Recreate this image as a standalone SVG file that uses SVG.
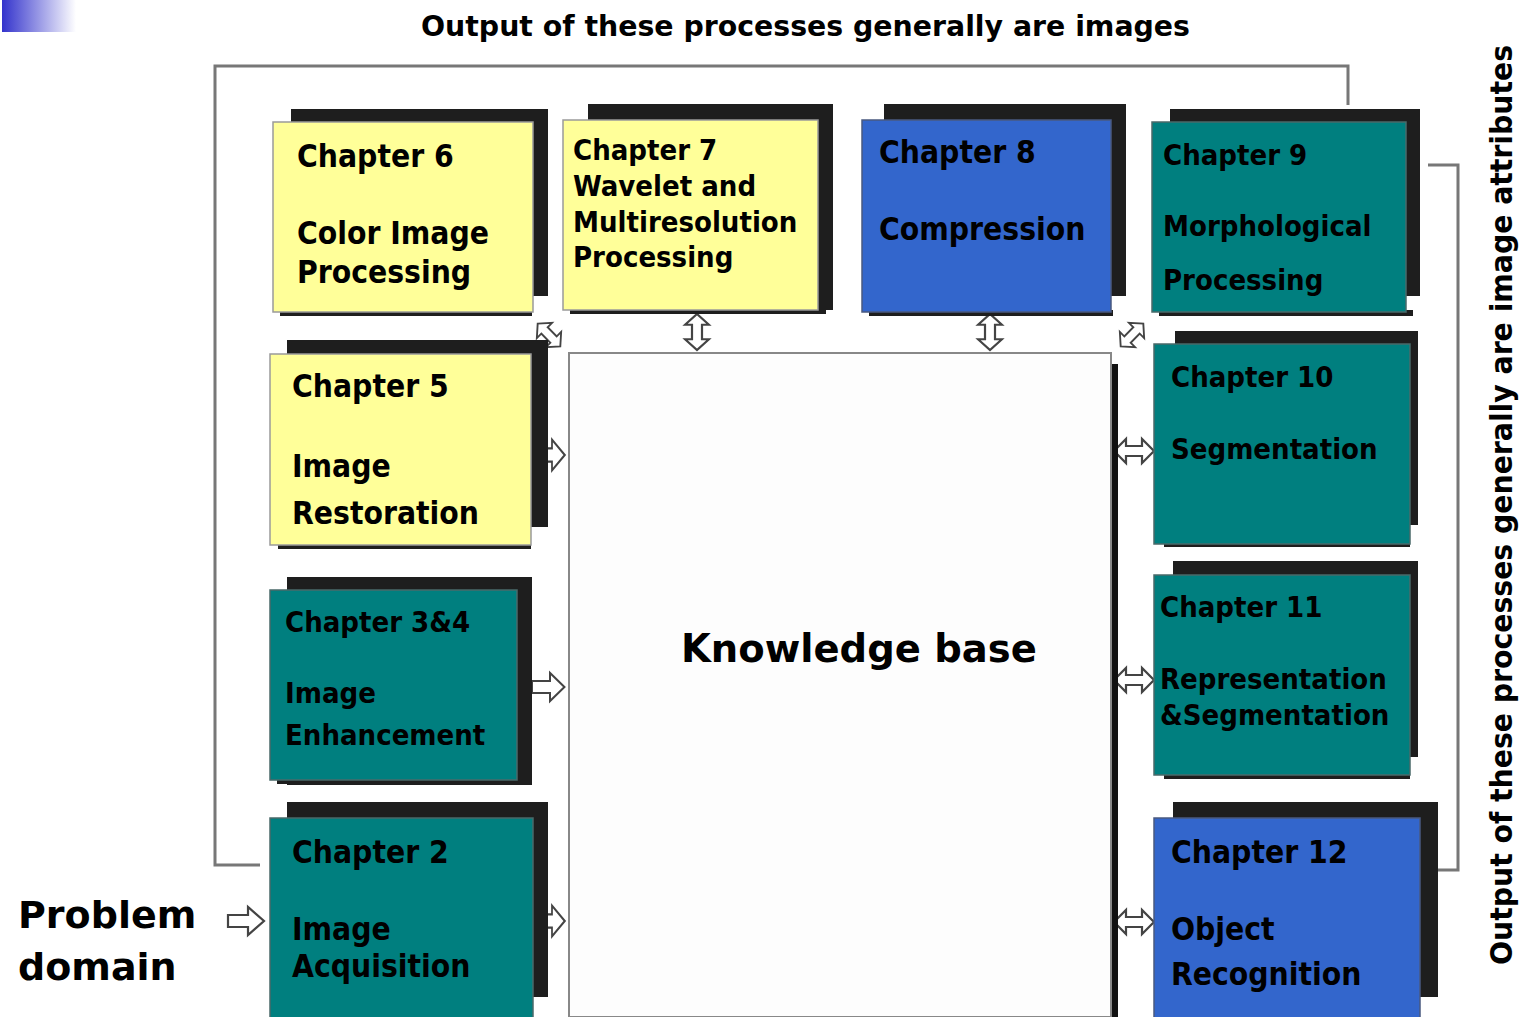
<svg xmlns="http://www.w3.org/2000/svg" width="1526" height="1017" viewBox="0 0 1526 1017">
<defs>
<linearGradient id="g" x1="0" y1="0" x2="1" y2="0">
<stop offset="0" stop-color="#3333cc"/>
<stop offset="1" stop-color="#ffffff"/>
</linearGradient>
<path id="a1" d="M-20,-6 H0 V-14 L16,0 L0,14 V6 H-20 Z"/>
<path id="a2" d="M-20,0 L-8,-12 V-5 H8 V-12 L20,0 L8,12 V5 H-8 V12 Z"/>
</defs>
<style>
.dk{fill:#1e1e1e}
.y{fill:#ffff99;stroke:#9a9a9a;stroke-width:1.5}
.t{fill:#007f7f;stroke:#4a6a6a;stroke-width:1.5}
.b{fill:#3366cc;stroke:#4a5a80;stroke-width:1.5}
.tx{font-family:"DejaVu Sans Condensed","DejaVu Sans",sans-serif;font-stretch:condensed;font-weight:bold;fill:#000}
.big{font-family:"DejaVu Sans",sans-serif;font-weight:bold;fill:#000}
.ln{fill:none;stroke:#777;stroke-width:3}
.ar{fill:#fff;stroke:#444;stroke-width:2.2;stroke-linejoin:miter}
</style>
<rect x="0" y="0" width="1526" height="1017" fill="#fff"/>
<rect x="2" y="0" width="74" height="32" fill="url(#g)"/>
<text class="tx" x="421" y="36" font-size="29" textLength="769" lengthAdjust="spacingAndGlyphs">Output of these processes generally are images</text>
<text class="tx" transform="translate(1512,965) rotate(-90)" font-size="30" textLength="920" lengthAdjust="spacingAndGlyphs">Output of these processes generally are image attributes</text>

<g id="connectors">
<path class="ln" d="M1348,105 V66 H215 V865 H260"/>
<path class="ln" d="M1428,165 H1458 V870 H1438"/>
<use href="#a1" class="ar" transform="translate(248,921)"/>
<use href="#a1" class="ar" transform="translate(552,455) scale(0.8,1.1)"/>
<use href="#a1" class="ar" transform="translate(550,687) scale(0.9,1)"/>
<use href="#a1" class="ar" transform="translate(552,921) scale(0.8,1.1)"/>
<use href="#a2" class="ar" transform="translate(1134,451)"/>
<use href="#a2" class="ar" transform="translate(1134,680)"/>
<use href="#a2" class="ar" transform="translate(1134,922)"/>
<use href="#a2" class="ar" transform="translate(697,332) rotate(90) scale(0.9,1)"/>
<use href="#a2" class="ar" transform="translate(990,332) rotate(90) scale(0.9,1)"/>
<use href="#a2" class="ar" transform="translate(549,335) rotate(45) scale(0.8,0.9)"/>
<use href="#a2" class="ar" transform="translate(1132,335) rotate(-45) scale(0.8,0.9)"/>
</g>

<g id="kb">
<rect x="1110" y="364" width="8" height="653" fill="#111"/>
<rect x="569" y="353" width="542" height="664" fill="#fdfdfd" stroke="#888" stroke-width="2"/>
<text class="big" x="681" y="662" font-size="38.5">Knowledge base</text>
</g>

<g id="ch6">
<rect class="dk" x="291" y="109" width="257" height="187"/>
<rect class="dk" x="280" y="310" width="252" height="6"/>
<rect class="y" x="273" y="122" width="260" height="190"/>
<text class="tx" font-size="31.5"><tspan x="297" y="167">Chapter 6</tspan><tspan x="297" y="244">Color Image</tspan><tspan x="297" y="283">Processing</tspan></text>
</g>
<g id="ch7">
<rect class="dk" x="588" y="104" width="245" height="206"/>
<rect class="dk" x="570" y="308" width="256" height="6"/>
<rect class="y" x="563" y="120" width="255" height="190"/>
<text class="tx" font-size="29"><tspan x="573" y="160">Chapter 7</tspan><tspan x="573" y="196">Wavelet and</tspan><tspan x="573" y="232">Multiresolution</tspan><tspan x="573" y="267">Processing</tspan></text>
</g>
<g id="ch8">
<rect class="dk" x="884" y="104" width="242" height="192"/>
<rect class="dk" x="869" y="310" width="244" height="6"/>
<rect class="b" x="862" y="120" width="249" height="192"/>
<text class="tx" font-size="31.5"><tspan x="879" y="163">Chapter 8</tspan><tspan x="879" y="240">Compression</tspan></text>
</g>
<g id="ch9">
<rect class="dk" x="1170" y="109" width="250" height="187"/>
<rect class="dk" x="1159" y="310" width="254" height="6"/>
<rect class="t" x="1152" y="122" width="254" height="190"/>
<text class="tx" font-size="29"><tspan x="1163" y="165">Chapter 9</tspan><tspan x="1163" y="236">Morphological</tspan><tspan x="1163" y="290">Processing</tspan></text>
</g>
<g id="ch5">
<rect class="dk" x="287" y="340" width="261" height="187"/>
<rect class="dk" x="278" y="543" width="253" height="6"/>
<rect class="y" x="270" y="354" width="261" height="191"/>
<text class="tx" font-size="31.5"><tspan x="292" y="397">Chapter 5</tspan><tspan x="292" y="477">Image</tspan><tspan x="292" y="524">Restoration</tspan></text>
</g>
<g id="ch34">
<rect class="dk" x="287" y="577" width="245" height="208"/>
<rect class="dk" x="277" y="778" width="252" height="6"/>
<rect class="t" x="270" y="590" width="247" height="190"/>
<text class="tx" font-size="29"><tspan x="285" y="632">Chapter 3&amp;4</tspan><tspan x="285" y="703">Image</tspan><tspan x="285" y="745">Enhancement</tspan></text>
</g>
<g id="ch2">
<rect class="dk" x="287" y="802" width="261" height="195"/>
<rect class="t" x="270" y="818" width="263" height="200"/>
<text class="tx" font-size="31.5"><tspan x="292" y="863">Chapter 2</tspan><tspan x="292" y="940">Image</tspan><tspan x="292" y="977">Acquisition</tspan></text>
</g>
<g id="ch10">
<rect class="dk" x="1175" y="331" width="243" height="194"/>
<rect class="dk" x="1164" y="541" width="246" height="6"/>
<rect class="t" x="1154" y="344" width="256" height="200"/>
<text class="tx" font-size="29"><tspan x="1171" y="387">Chapter 10</tspan><tspan x="1171" y="459">Segmentation</tspan></text>
</g>
<g id="ch11">
<rect class="dk" x="1173" y="561" width="245" height="196"/>
<rect class="dk" x="1164" y="773" width="246" height="6"/>
<rect class="t" x="1154" y="575" width="256" height="200"/>
<text class="tx" font-size="29"><tspan x="1160" y="617">Chapter 11</tspan><tspan x="1160" y="689">Representation</tspan><tspan x="1160" y="725">&amp;Segmentation</tspan></text>
</g>
<g id="ch12">
<rect class="dk" x="1173" y="802" width="265" height="195"/>
<rect class="b" x="1154" y="818" width="266" height="200"/>
<text class="tx" font-size="31.5"><tspan x="1171" y="863">Chapter 12</tspan><tspan x="1171" y="940">Object</tspan><tspan x="1171" y="985">Recognition</tspan></text>
</g>
<g id="problem">
<text class="big" font-size="38"><tspan x="18" y="928">Problem</tspan><tspan x="18" y="980">domain</tspan></text>
</g>
</svg>
